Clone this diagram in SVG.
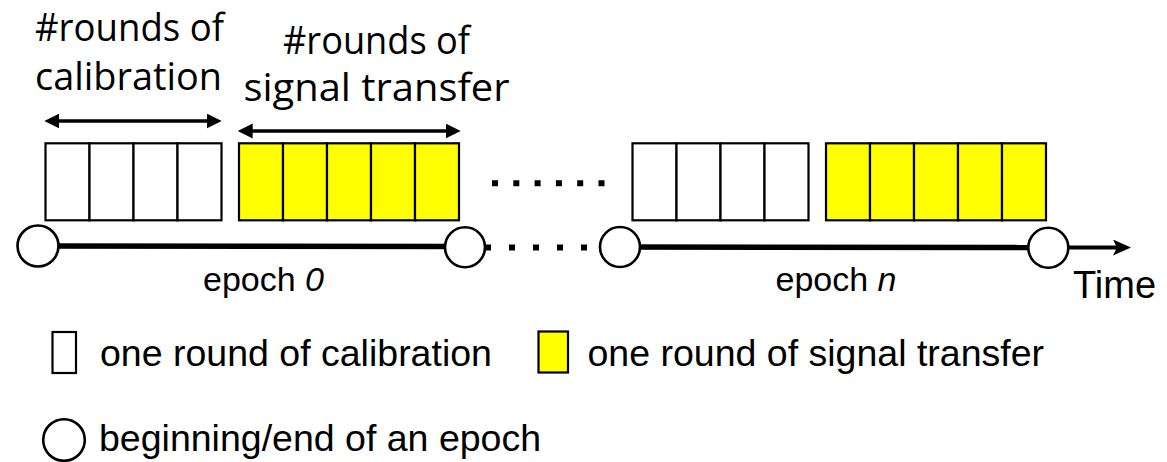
<svg xmlns="http://www.w3.org/2000/svg" width="1167" height="462" viewBox="0 0 1167 462">
<style>
.cell{fill:#ffffff;stroke:#000;stroke-width:2.2}
.ycell{fill:#ffff00;stroke:#000;stroke-width:2.2}
.ep{fill:#ffffff;stroke:#000;stroke-width:2.6}
.hd{font-family:"Open Sans","Liberation Sans",sans-serif;font-size:38px;fill:#000}
.lb{font-family:"Liberation Sans",Arial,sans-serif;fill:#000}
.tl{stroke:#000;stroke-width:5.5;fill:none}
.dots{stroke:#000;stroke-width:6;fill:none}
.dbl{stroke:#000;stroke-width:3.6;fill:none;marker-start:url(#ah);marker-end:url(#ah)}
</style>
<defs>
<marker id="ah" markerUnits="userSpaceOnUse" markerWidth="16" markerHeight="16" refX="8" refY="7.5" orient="auto-start-reverse" viewBox="0 0 16 16">
<path d="M0,0 L15,7.5 L0,15 Z" fill="#000"/>
</marker>
<marker id="th" markerUnits="userSpaceOnUse" markerWidth="19" markerHeight="17" refX="10" refY="8" orient="auto" viewBox="0 0 19 17">
<path d="M0,0 L18,8 L0,16 L4,8 Z" fill="#000"/>
</marker>
</defs>
<rect width="1167" height="462" fill="#ffffff"/>

<g id="labels">
<text class="hd" x="35" y="41" textLength="189" lengthAdjust="spacingAndGlyphs">#rounds of</text>
<text class="hd" x="35" y="90" textLength="187" lengthAdjust="spacingAndGlyphs">calibration</text>
<text class="hd" x="283" y="54" textLength="187" lengthAdjust="spacingAndGlyphs">#rounds of</text>
<text class="hd" x="243.5" y="101" textLength="266" lengthAdjust="spacingAndGlyphs">signal transfer</text>
</g>

<g id="connectors">
<line class="dbl" x1="51.3" y1="121" x2="214.7" y2="121"/>
<line class="dbl" x1="244.7" y1="131" x2="453.7" y2="131"/>
<line class="tl" x1="38" y1="246" x2="465" y2="246.5"/>
<line class="dots" x1="485" y1="247.5" x2="600" y2="247.5" stroke-dasharray="6 18"/>
<line class="tl" x1="620" y1="247" x2="1048" y2="247.5"/>
<line x1="1060" y1="247.5" x2="1123" y2="247.5" stroke="#000" stroke-width="4" marker-end="url(#th)"/>
<line class="dots" x1="492" y1="183.3" x2="605" y2="183.3" stroke-dasharray="6 15.3"/>
</g>

<g id="cal0">
<rect class="cell" x="45.5" y="143.3" width="44" height="77"/>
<rect class="cell" x="89.5" y="143.3" width="44" height="77"/>
<rect class="cell" x="133.5" y="143.3" width="44" height="77"/>
<rect class="cell" x="177.5" y="143.3" width="44" height="77"/>
</g>
<g id="sig0">
<rect class="ycell" x="239" y="143.3" width="44" height="77"/>
<rect class="ycell" x="283" y="143.3" width="44" height="77"/>
<rect class="ycell" x="327" y="143.3" width="44" height="77"/>
<rect class="ycell" x="371" y="143.3" width="44" height="77"/>
<rect class="ycell" x="415" y="143.3" width="44" height="77"/>
</g>
<g id="caln">
<rect class="cell" x="632.5" y="143.3" width="44" height="77"/>
<rect class="cell" x="676.5" y="143.3" width="44" height="77"/>
<rect class="cell" x="720.5" y="143.3" width="44" height="77"/>
<rect class="cell" x="764.5" y="143.3" width="44" height="77"/>
</g>
<g id="sign">
<rect class="ycell" x="826" y="143.3" width="44" height="77"/>
<rect class="ycell" x="870" y="143.3" width="44" height="77"/>
<rect class="ycell" x="914" y="143.3" width="44" height="77"/>
<rect class="ycell" x="958" y="143.3" width="44" height="77"/>
<rect class="ycell" x="1002" y="143.3" width="44" height="77"/>
</g>

<g id="ep0start"><circle class="ep" cx="38" cy="246" r="20.5"/></g>
<g id="ep0end"><circle class="ep" cx="465" cy="247.3" r="20"/></g>
<g id="epnstart"><circle class="ep" cx="620" cy="247" r="20"/></g>
<g id="epnend"><circle class="ep" cx="1048.3" cy="247.7" r="20"/></g>

<g id="epochlabels">
<text class="lb" x="263.5" y="291" font-size="34" text-anchor="middle">epoch <tspan font-style="italic">0</tspan></text>
<text class="lb" x="836" y="291" font-size="34" text-anchor="middle">epoch <tspan font-style="italic">n</tspan></text>
<text class="lb" x="1073" y="298" font-size="38">Time</text>
</g>

<g id="legend-cal">
<rect class="cell" x="52.5" y="332" width="23.5" height="41"/>
<text class="lb" x="100" y="366" font-size="37.5">one round of calibration</text>
</g>
<g id="legend-sig">
<rect class="ycell" x="538.5" y="331.5" width="29.5" height="41"/>
<text class="lb" x="587.5" y="366" font-size="37.5">one round of signal transfer</text>
</g>
<g id="legend-epoch">
<circle class="ep" cx="64" cy="440" r="20.8"/>
<text class="lb" x="99" y="451" font-size="37.5">beginning/end of an epoch</text>
</g>
</svg>
